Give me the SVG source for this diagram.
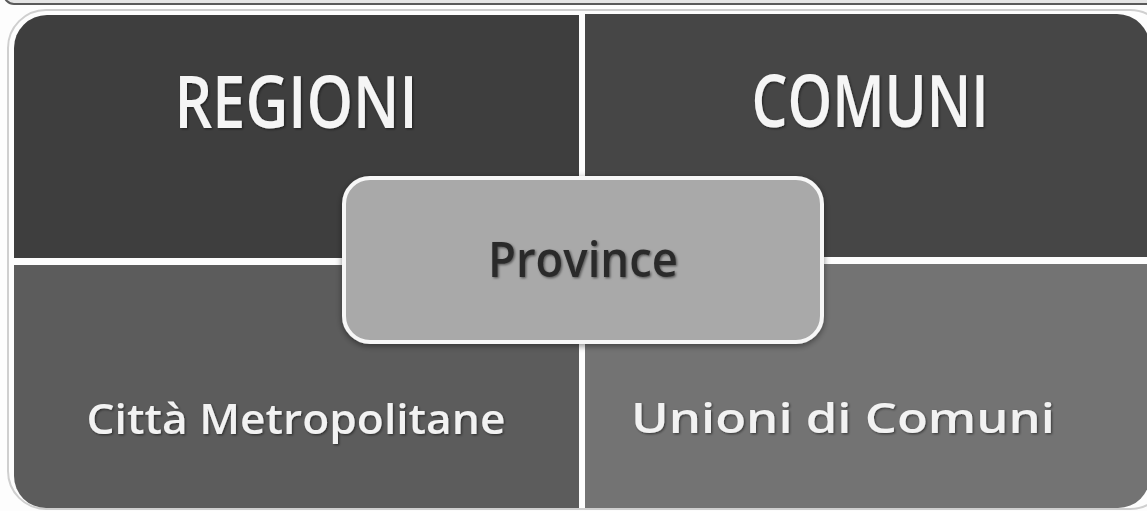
<svg xmlns="http://www.w3.org/2000/svg" width="1147" height="511" viewBox="0 0 1147 511">
  <defs>
    <style>
      .big { font-family: "Open Sans", "DejaVu Sans", sans-serif; font-weight: 600; fill: #f5f5f5; text-anchor: middle; }
      .mid { font-family: "Open Sans", "DejaVu Sans", sans-serif; font-weight: 600; fill: #f2f2f2; text-anchor: middle; }
      .prov { font-family: "Open Sans", "DejaVu Sans", sans-serif; font-weight: 600; fill: #2c2c2c; text-anchor: middle; }
    </style>
    <filter id="tshadow" x="-10%" y="-20%" width="120%" height="140%">
      <feDropShadow dx="1.2" dy="1.2" stdDeviation="0.8" flood-color="#000" flood-opacity="0.5"/>
    </filter>
    <filter id="boxshadow" x="-10%" y="-20%" width="120%" height="140%">
      <feDropShadow dx="0" dy="2" stdDeviation="3" flood-color="#000" flood-opacity="0.45"/>
    </filter>
  </defs>
  <rect width="1147" height="511" fill="#fdfdfd"/>
  <!-- top strip (bottom of a frame above) -->
  <rect x="4" y="-30" width="1160" height="34" rx="10" fill="#e4e4e4" stroke="#5a5a5a" stroke-width="2"/>
  <!-- outer faint border -->
  <rect x="8" y="10" width="1160" height="499" rx="38" fill="none" stroke="#cfcfcf" stroke-width="2"/>

  <g id="regioni">
    <path d="M14,258 L14,48 A33,33 0 0 1 47,15 L579,15 L579,258 Z" fill="#3e3e3e"/>
    <text class="big" x="296" y="128" font-size="72" textLength="243" lengthAdjust="spacingAndGlyphs" filter="url(#tshadow)">REGIONI</text>
  </g>
  <g id="comuni">
    <path d="M585,14 L1117,14 A33,33 0 0 1 1150,47 L1150,257 L585,257 Z" fill="#464646"/>
    <text class="big" x="870" y="127" font-size="72" textLength="237" lengthAdjust="spacingAndGlyphs" filter="url(#tshadow)">COMUNI</text>
  </g>
  <g id="citta-metropolitane">
    <path d="M14,265 L579,265 L579,508 L46,508 A32,32 0 0 1 14,476 Z" fill="#5c5c5c"/>
    <text class="mid" x="296" y="434" font-size="42" textLength="419" lengthAdjust="spacingAndGlyphs" filter="url(#tshadow)">Città Metropolitane</text>
  </g>
  <g id="unioni-di-comuni">
    <path d="M585,264 L1150,264 L1150,476 A32,32 0 0 1 1118,508 L585,508 Z" fill="#737373"/>
    <text class="mid" x="843" y="433" font-size="42" textLength="424" lengthAdjust="spacingAndGlyphs" filter="url(#tshadow)">Unioni di Comuni</text>
  </g>
  <g id="province">
    <rect x="344" y="178" width="478" height="164" rx="26" fill="#a9a9a9" stroke="#f7f7f7" stroke-width="4" filter="url(#boxshadow)"/>
    <text class="prov" x="583" y="277" font-size="48" textLength="190" lengthAdjust="spacingAndGlyphs" filter="url(#tshadow)">Province</text>
  </g>
</svg>
